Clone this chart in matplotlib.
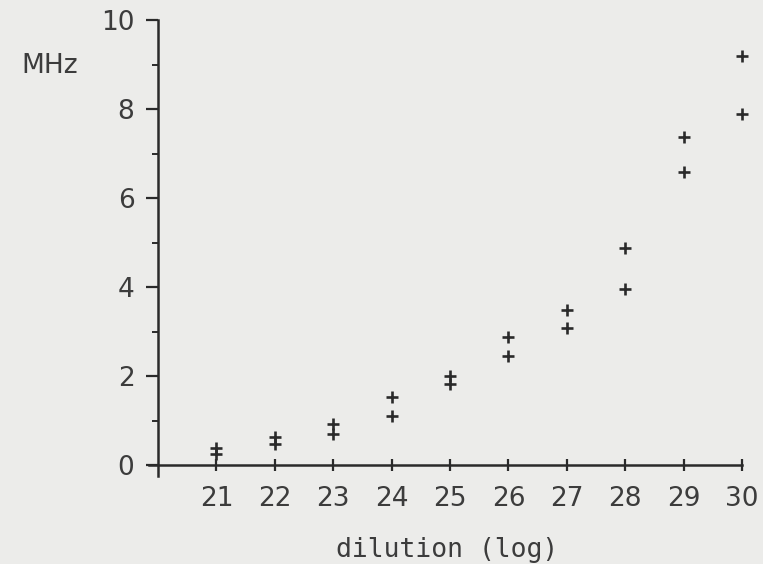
import matplotlib
matplotlib.use("Agg")
import matplotlib.pyplot as plt
from matplotlib.ticker import MultipleLocator, FixedLocator

dilution = [21, 22, 23, 24, 25, 26, 27, 28, 29, 30]
freq_high = [0.38, 0.62, 0.93, 1.53, 2.00, 2.87, 3.49, 4.88, 7.37, 9.20]
freq_low = [0.24, 0.48, 0.70, 1.11, 1.82, 2.46, 3.07, 3.96, 6.58, 7.88]
x_ticks = [21, 22, 23, 24, 25, 26, 27, 28, 29, 30]
y_ticks = [0, 2, 4, 6, 8, 10]

bg = "#ececea"
ink = "#2a2a2a"
txt = "#3c3c3c"

fig = plt.figure(figsize=(7.63, 5.64), dpi=100, facecolor=bg)
W, H = 763, 564
# pixel geometry: x=20 -> 158px, x=30 -> 742px ; y=0 -> 465px, y=10 -> 20px
sx = (742 - 158) / 10.0
sy = (465 - 20) / 10.0
xlo, xhi = 19.8, 30.1
ylo, yhi = -0.3, 10.1
left = 158 - (20 - xlo) * sx
right = 742 + (xhi - 30) * sx
top = 20 - (yhi - 10) * sy
bottom = 465 + (0 - ylo) * sy
ax = fig.add_axes([left / W, 1 - bottom / H, (right - left) / W, (bottom - top) / H])
ax.set_facecolor(bg)
ax.set_xlim(xlo, xhi)
ax.set_ylim(ylo, yhi)

ax.plot(dilution, freq_high, linestyle="none", marker="+", ms=8.5, mew=1.9, color=ink)
ax.plot(dilution, freq_low, linestyle="none", marker="+", ms=8.5, mew=1.9, color=ink)

for s in ["top", "right"]:
    ax.spines[s].set_visible(False)
ax.spines["left"].set_position(("data", 20))
ax.spines["bottom"].set_position(("data", 0))
ax.spines["left"].set_bounds(-0.25, 10)
ax.spines["bottom"].set_bounds(19.85, 30)
for s in ["left", "bottom"]:
    ax.spines[s].set_color(ink)
    ax.spines[s].set_linewidth(1.8)

ax.xaxis.set_major_locator(FixedLocator(x_ticks))
ax.yaxis.set_major_locator(FixedLocator(y_ticks))
ax.yaxis.set_minor_locator(MultipleLocator(1))
ax.set_xticklabels([str(v) for v in x_ticks])
ax.set_yticklabels([str(v) for v in y_ticks])

ax.tick_params(axis="x", direction="inout", length=8, width=1.6, pad=11,
               labelsize=19, colors=ink, labelcolor=txt)
ax.tick_params(axis="y", which="major", direction="out", length=9, width=1.6,
               pad=8, labelsize=19, colors=ink, labelcolor=txt)
ax.tick_params(axis="y", which="minor", direction="out", length=4, width=1.4,
               colors=ink)

ax.set_xlabel("dilution (log)", family="DejaVu Sans Mono", fontsize=19,
              color=txt, labelpad=18)
fig.text(50 / W, 1 - 66 / H, "MHz", fontsize=19, color=txt,
         ha="center", va="center")

fig.savefig("out.png", dpi=100, facecolor=bg)
